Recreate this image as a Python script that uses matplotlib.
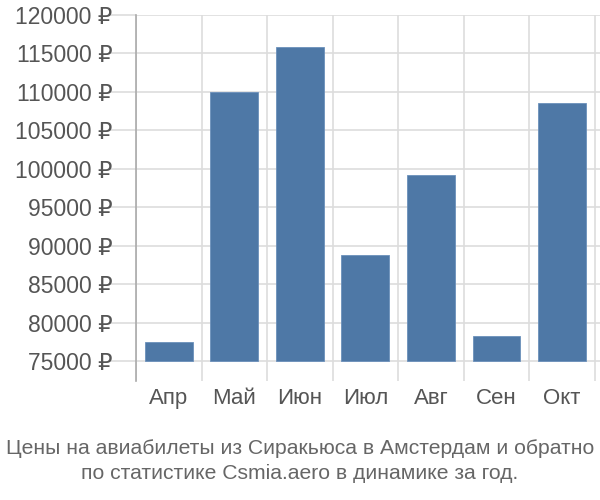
import matplotlib
matplotlib.use("Agg")
import matplotlib.pyplot as plt
from matplotlib.ticker import FixedLocator

plt.rcParams['font.family'] = ['Liberation Sans', 'DejaVu Sans']

months = ["Апр", "Май", "Июн", "Июл", "Авг", "Сен", "Окт"]
prices = [77500, 110000, 115800, 88800, 99200, 78300, 108500]
yticks = [75000, 80000, 85000, 90000, 95000, 100000, 105000, 110000, 115000, 120000]
base = 75000
title = "Цены на авиабилеты из Сиракьюса в Амстердам и обратно\nпо статистике Csmia.aero в динамике за год."

fig = plt.figure(figsize=(6, 5), dpi=100)
ax = fig.add_axes([136/600, 1-381/500, 1-136/600, (381-15)/500])

x = list(range(len(months)))
ax.bar(x, [p - base for p in prices], bottom=base, width=0.73,
       color='#4e78a6', edgecolor='#6b90bb', linewidth=0.6, zorder=3)

ax.set_xlim(-0.5, 6.58)
ax.set_ylim(72400, 120000)

ax.set_yticks(yticks)
ax.set_yticklabels([f"{v} ₽" for v in yticks])
ax.yaxis.grid(True, color='#dddddd', linewidth=1.2, zorder=0)
ax.tick_params(axis='y', length=19, color='#dddddd', width=1.2,
               labelsize=16.5, labelcolor='#555555', pad=-2)

ax.set_xticks(x)
ax.set_xticklabels(months)
ax.xaxis.set_minor_locator(FixedLocator([i - 0.5 for i in range(len(months) + 1)]))
ax.xaxis.grid(True, which='minor', color='#dddddd', linewidth=1.2, zorder=0)
ax.tick_params(axis='x', which='major', length=0, labelsize=16,
               labelcolor='#555555', pad=5)
ax.tick_params(axis='x', which='minor', length=0)

for s in ['top', 'right', 'bottom']:
    ax.spines[s].set_visible(False)
ax.spines['left'].set_color('#aaaaaa')
ax.spines['left'].set_linewidth(1.2)

fig.text(0.5, 1-461/500, title, ha='center', va='center', fontsize=15.2,
         color='#666666', linespacing=1.4)

fig.savefig("out.png", dpi=100)
